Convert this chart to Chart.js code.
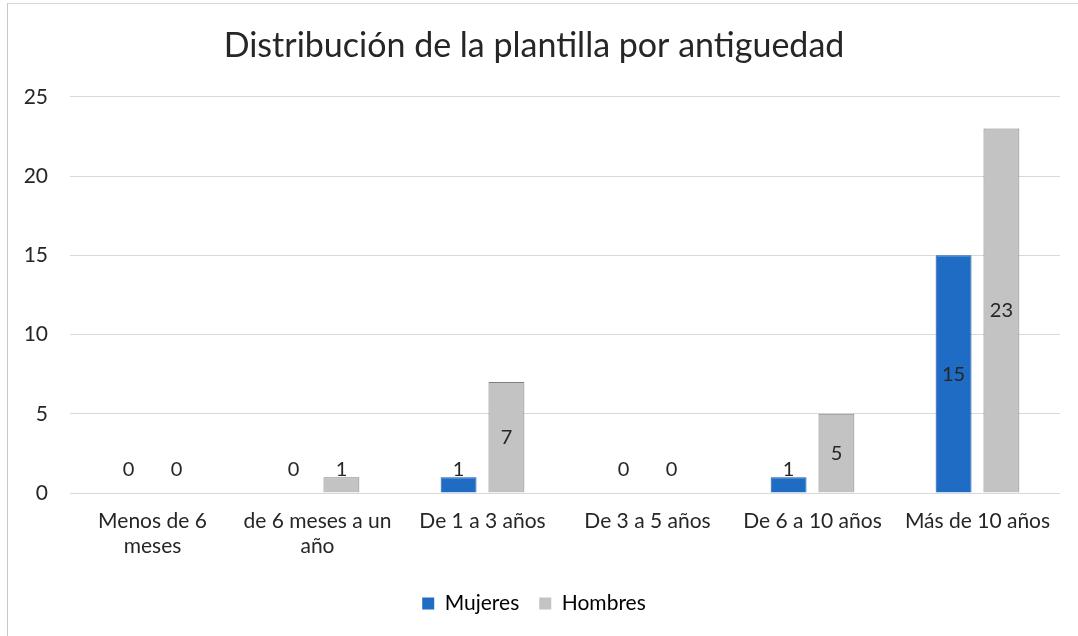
<!DOCTYPE html>
<html>
<head>
<meta charset="utf-8">
<script src="https://cdn.jsdelivr.net/npm/chart.js@4"></script>
<style>
  html, body { margin: 0; padding: 0; background: #fff; }
  #wrap { position: absolute; left: 0; top: 0; width: 1078px; height: 636px; }
  #frame { position: absolute; left: 7px; top: 3px; width: 1100px; height: 700px; border-left: 1px solid #c8c8c8; border-top: 1px solid #d8d8d8; pointer-events: none; }
</style>
</head>
<body>
<div id="wrap">
  <canvas id="c" width="1078" height="636"></canvas>
  <div id="frame"></div>
</div>
<script>
const categories = [
  ["Menos de 6", "meses"],
  ["de 6 meses a un", "año"],
  "De 1 a 3 años",
  "De 3 a 5 años",
  "De 6 a 10 años",
  "Más de 10 años"
];
const mujeres = [0, 0, 1, 0, 1, 15];
const hombres = [0, 1, 7, 0, 5, 23];
const yTicks = [0, 5, 10, 15, 20, 25];
const seriesNames = ["Mujeres", "Hombres"];
const titleText = "Distribución de la plantilla por antiguedad";

const FONT = "Lato, 'Open Sans', sans-serif";

const labelPlugin = {
  id: 'barLabels',
  afterDatasetsDraw(chart) {
    const ctx = chart.ctx;
    const y = chart.scales.y;
    ctx.save();
    ctx.font = "20px " + FONT;
    ctx.fillStyle = "#262626";
    ctx.textAlign = "center";
    ctx.textBaseline = "middle";
    chart.data.datasets.forEach((ds, di) => {
      const meta = chart.getDatasetMeta(di);
      meta.data.forEach((bar, i) => {
        const v = ds.data[i];
        const py = y.getPixelForValue(Math.max(v / 2, 1.5));
        ctx.fillText(String(v), bar.x, py);
      });
    });
    ctx.restore();
  }
};

new Chart(document.getElementById('c'), {
  type: 'bar',
  data: {
    labels: categories,
    datasets: [
      { label: seriesNames[0], data: mujeres, backgroundColor: '#1f6cc4', borderColor: '#1656a8', borderWidth: 1 },
      { label: seriesNames[1], data: hombres, backgroundColor: '#c3c3c3', borderColor: '#7f7f7f', borderWidth: 1 }
    ]
  },
  options: {
    responsive: false,
    animation: false,
    events: [],
    layout: { padding: { top: 0, left: 8, right: 18, bottom: 12 } },
    datasets: { bar: { categoryPercentage: 0.58, barPercentage: 0.75 } },
    plugins: {
      title: {
        display: true, text: titleText, color: '#262626',
        font: { family: FONT, size: 34, weight: 'normal' },
        padding: { top: 26, bottom: 30 }
      },
      legend: {
        position: 'bottom',
        labels: {
          color: '#262626', font: { family: FONT, size: 21 },
          boxWidth: 12, boxHeight: 12, padding: 20,
          generateLabels(chart) {
            return chart.data.datasets.map((ds, i) => ({
              text: ds.label, fillStyle: ds.backgroundColor, strokeStyle: ds.backgroundColor,
              lineWidth: 0, datasetIndex: i, hidden: false
            }));
          }
        }
      },
      tooltip: { enabled: false }
    },
    scales: {
      x: {
        grid: { display: false },
        border: { display: false },
        ticks: { color: '#262626', font: { family: FONT, size: 21, lineHeight: 1.18 }, maxRotation: 0, autoSkip: false, padding: 8 },
        afterFit(s) { s.height = 80; }
      },
      y: {
        min: 0, max: 25,
        afterBuildTicks(s) { s.ticks = yTicks.map(v => ({ value: v })); },
        grid: { color: '#d9d9d9', drawTicks: false },
        border: { display: false },
        ticks: { color: '#262626', font: { family: FONT, size: 21 }, padding: 22 },
        afterFit(s) { s.width = 62; }
      }
    }
  },
  plugins: [labelPlugin]
});
</script>
</body>
</html>
